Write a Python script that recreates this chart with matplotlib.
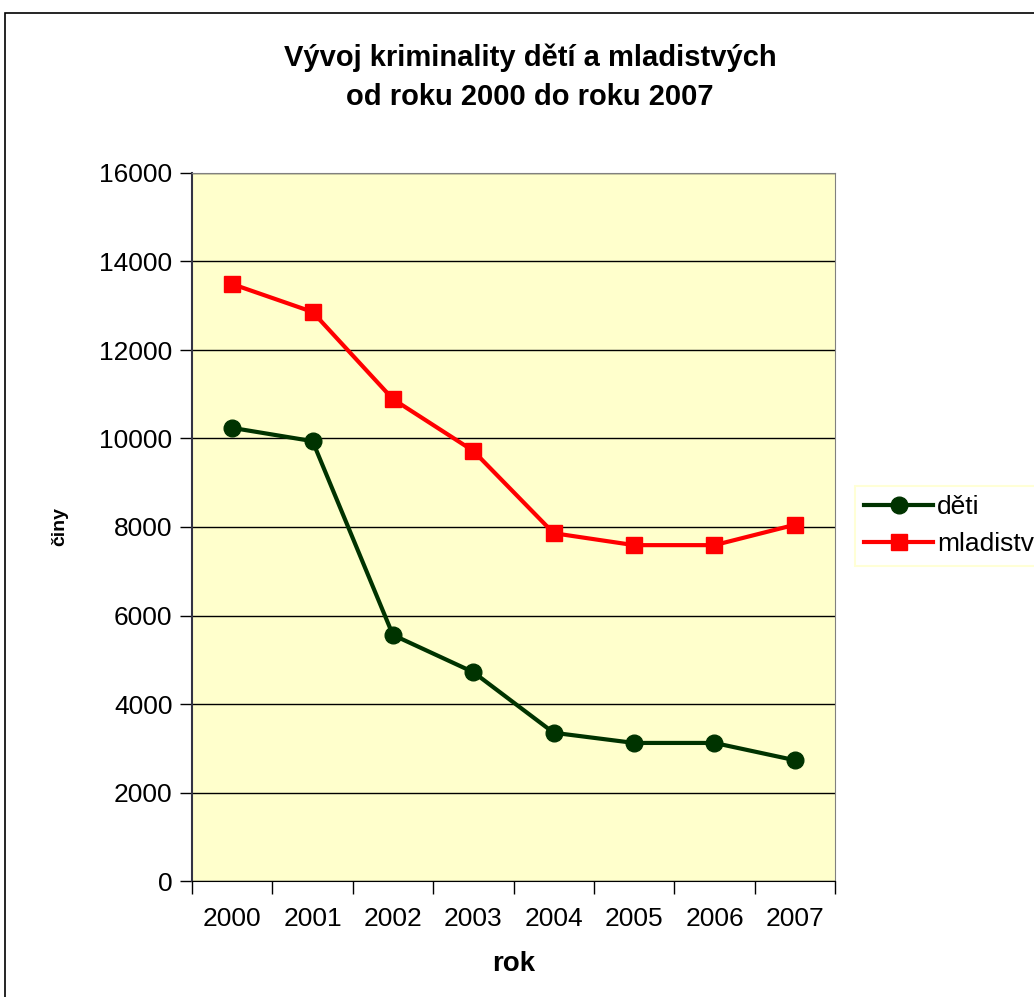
import numpy as np
import matplotlib.pyplot as plt
from matplotlib.patches import Rectangle

plt.rcParams['font.family'] = ['Liberation Sans', 'DejaVu Sans']

roky = ['2000', '2001', '2002', '2003', '2004', '2005', '2006', '2007']
deti = [10240, 9940, 5560, 4720, 3350, 3120, 3120, 2730]
mladistvi = [13490, 12860, 10890, 9720, 7860, 7590, 7590, 8050]

fig = plt.figure(figsize=(10.34, 9.97), dpi=100)

# ramecek grafu
fig.patches.append(Rectangle((5 / 1034, -0.05), 1.1, 1 - 13 / 997 + 0.05,
                             transform=fig.transFigure, fill=False,
                             edgecolor='black', linewidth=1.2))

ax = fig.add_axes([192 / 1034, 1 - 881 / 997, 643 / 1034, 708 / 997])
ax.set_facecolor('#FFFFCC')

x = np.arange(len(roky))
ax.plot(x, deti, color='#003300', linewidth=3, marker='o', markersize=12,
        label='děti')
ax.plot(x, mladistvi, color='#FF0000', linewidth=3, marker='s', markersize=11,
        label='mladiství')

ax.set_xlim(-0.5, len(roky) - 0.5)
ax.set_ylim(0, 16000)
ax.set_yticks(np.arange(0, 16001, 2000))
ax.yaxis.grid(True, color='black', linewidth=1)
ax.set_axisbelow(True)

# tick na hranicich kategorii, popisky uprostred
ax.set_xticks(np.arange(-0.5, len(roky), 1))
ax.set_xticklabels([])
ax.set_xticks(x, minor=True)
ax.set_xticklabels(roky, minor=True)
ax.tick_params(axis='x', which='major', direction='out', length=9, width=1)
ax.tick_params(axis='x', which='minor', length=0, pad=19, labelsize=19)
ax.tick_params(axis='y', direction='out', length=9, width=1, labelsize=19, pad=5)

for s in ['top', 'right']:
    ax.spines[s].set_color('#808080')
ax.spines['left'].set_color('#333344')
ax.spines['left'].set_linewidth(1.5)
ax.spines['bottom'].set_color('black')

ax.set_xlabel('rok', fontsize=20, fontweight='bold', labelpad=14)
ax.set_ylabel('činy', fontsize=14, fontweight='bold', labelpad=22)

fig.text(530 / 1034, 1 - 77 / 997,
         'Vývoj kriminality dětí a mladistvých\nod roku 2000 do roku 2007',
         ha='center', va='center', fontsize=21, fontweight='bold',
         linespacing=1.5)

leg = ax.legend(loc='upper left', bbox_to_anchor=(855 / 1034, 1 - 486 / 997),
                bbox_transform=fig.transFigure, fontsize=19, frameon=True,
                fancybox=False, handlelength=2.6, handletextpad=0.15,
                borderpad=0.35, labelspacing=0.5, borderaxespad=0)
leg.get_frame().set_edgecolor('#FFFFCC')
leg.get_frame().set_linewidth(1.5)

fig.savefig('out.png', dpi=100)
